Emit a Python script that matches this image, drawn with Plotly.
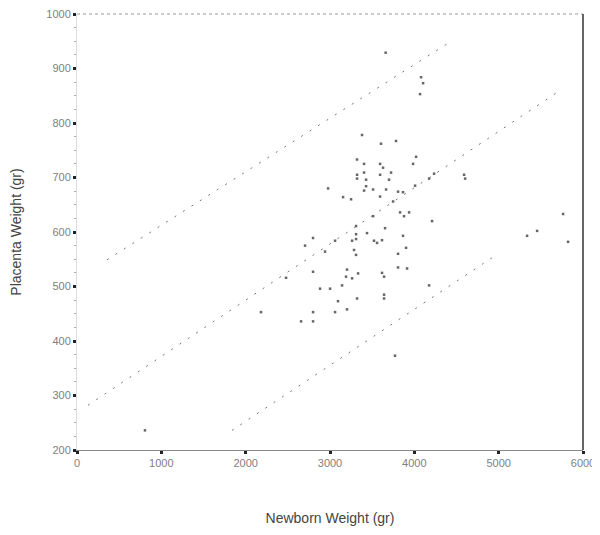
import plotly.graph_objects as go

# Scatter data: newborn weight (g) vs placenta weight (g)
newborn_weight = [
    3660, 4080, 4104, 4068, 3380, 3783, 3605, 4021, 3985, 3321,
    3404, 3594, 3629, 3321, 3321, 3404, 3428, 3594, 3700, 3724,
    4234, 4175, 4590, 4602, 3428, 2977, 3404, 3511, 3665, 4009,
    3155, 3250, 3594, 3807, 3866, 3748, 3831, 3938, 3511, 3878,
    4210, 3309, 3439, 3309, 2799, 3309, 3060, 3262, 3522, 3558,
    2704, 2941, 3285, 3309, 3653, 3866, 3617, 3902, 3807, 3807,
    3914, 2799, 2479, 3202, 3333, 3190, 3262, 3617, 3641, 3143,
    2882, 3001, 3641, 3641, 3321, 3095, 3202, 3060, 2799, 2799,
    2657, 2182, 3771, 4175, 5764, 5456, 5337, 5823, 806,
]
placenta_weight = [
    929, 884, 873, 853, 778, 767, 762, 738, 725, 733,
    725, 725, 718, 705, 698, 709, 696, 705, 696, 709,
    707, 698, 705, 698, 684, 680, 676, 678, 678, 685,
    664, 660, 665, 674, 673, 656, 636, 636, 629, 629,
    620, 611, 598, 596, 589, 587, 584, 584, 584, 580,
    575, 564, 567, 558, 607, 593, 585, 571, 560, 535,
    533, 527, 516, 531, 524, 518, 515, 525, 518, 502,
    496, 496, 485, 478, 478, 473, 458, 453, 453, 436,
    436, 453, 373, 502, 633, 602, 593, 582, 236,
]

# Regression line and prediction limits (endpoints, data units)
fit_x = [130, 5692]
fit_y = [282, 856]
upper_x = [356, 4447]
upper_y = [549, 951]
lower_x = [1838, 4933]
lower_y = [236, 554]

x_ticks = [0, 1000, 2000, 3000, 4000, 5000, 6000]
y_ticks = [200, 300, 400, 500, 600, 700, 800, 900, 1000]

FONT = "Liberation Sans, Arial, sans-serif"

fig = go.Figure()
line_style = dict(color="#777777", width=1, dash="2px,8px")
for lx, ly in [(fit_x, fit_y), (upper_x, upper_y), (lower_x, lower_y)]:
    fig.add_trace(go.Scatter(x=lx, y=ly, mode="lines", line=line_style,
                             hoverinfo="skip", showlegend=False))

fig.add_trace(go.Scatter(
    x=newborn_weight, y=placenta_weight, mode="markers",
    marker=dict(symbol="square", size=2.5, color="#666666", line=dict(width=0)),
    showlegend=False,
))

# The page body has an 8px default margin, so the figure is sized to fit the window.
fig.update_layout(
    width=592, height=527,
    margin=dict(l=69, r=17, t=6, b=85, autoexpand=False),
    paper_bgcolor="white", plot_bgcolor="white",
    font=dict(family=FONT),
    shapes=[
        dict(type="line", xref="paper", yref="paper", x0=0, x1=1, y0=1, y1=1,
             line=dict(color="#999999", width=1, dash="dot")),
        dict(type="line", xref="paper", yref="paper", x0=1, x1=1, y0=0, y1=1,
             line=dict(color="#333333", width=1.5)),
    ],
)
fig.update_xaxes(
    range=[0, 6000], tickvals=x_ticks, ticktext=[str(v) for v in x_ticks],
    showgrid=False, zeroline=False, automargin=False, ticklabeloverflow="allow",
    showline=True, linecolor="#8a8a8a", linewidth=1,
    ticks="outside", ticklen=3, tickwidth=3, tickcolor="#222222",
    tickfont=dict(size=11, color="#808080", family=FONT),
    title=dict(text="Newborn Weight (gr)", font=dict(size=14, color="#444444", family=FONT),
               standoff=44),
)
fig.update_yaxes(
    range=[200, 1000], tickvals=y_ticks, ticktext=[str(v) for v in y_ticks],
    showgrid=False, zeroline=False, automargin=False, ticklabeloverflow="allow",
    showline=True, linecolor="#dddddd", linewidth=1,
    ticks="outside", ticklen=3, tickwidth=3, tickcolor="#222222",
    minor=dict(dtick=25, ticks="outside", ticklen=2, tickwidth=1, tickcolor="#aaaaaa"),
    tickfont=dict(size=11, color="#808080", family=FONT),
    title=dict(text="Placenta Weight (gr)", font=dict(size=14, color="#444444", family=FONT),
               standoff=30),
)

fig.write_html("out.html")
